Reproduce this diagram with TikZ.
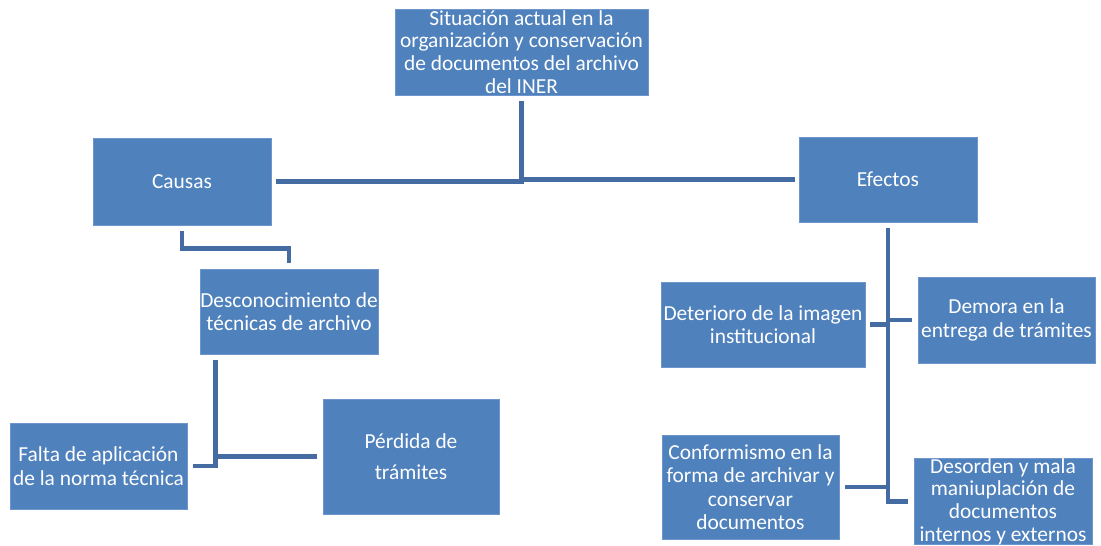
\documentclass[tikz,border=0pt]{standalone}
\usepackage{fontspec}
\setmainfont{Carlito}
\usetikzlibrary{calc}
\definecolor{boxblue}{RGB}{79,129,189}
\definecolor{boxedge}{RGB}{110,150,205}
\definecolor{linkblue}{RGB}{68,108,162}
\begin{document}
\begin{tikzpicture}[x=1pt,y=-1pt,
  box/.style={fill=boxblue, draw=boxedge, line width=0.8pt, inner sep=0pt,
    text=white, align=center, font=\fontsize{21.4}{23.5}\selectfont},
  conn/.style={draw=linkblue, line width=4.8pt}]
\useasboundingbox (0,0) rectangle (1101,546);

% boxes
\node[box, minimum width=253pt, minimum height=86pt, font=\fontsize{21.4}{22.8}\selectfont] (top) at (521.5,52)
  {Situación actual en la\\organización y conservación\\de documentos del archivo\\del INER};
\node[box, minimum width=178pt, minimum height=87pt] (causas) at (182,181.5) {Causas};
\node[box, minimum width=178pt, minimum height=85pt] (efectos) at (888,179.5) {Efectos};
\node[box, minimum width=178pt, minimum height=85pt] (desc) at (289,311.5)
  {Desconocimiento de\\técnicas de archivo};
\node[box, minimum width=177pt, minimum height=86pt] (falta) at (98.5,466)
  {Falta de aplicación\\de la norma técnica};
\node[box, minimum width=176pt, minimum height=115pt, font=\fontsize{21.4}{31}\selectfont] (perdida) at (411,456.5)
  {Pérdida de\\trámites};
\node[box, minimum width=204pt, minimum height=85pt] (deterioro) at (763,324.5)
  {Deterioro de la imagen\\institucional};
\node[box, minimum width=177pt, minimum height=86pt] (demora) at (1006.5,320)
  {Demora en la\\entrega de trámites};
\node[box, minimum width=177pt, minimum height=104pt] (conform) at (750.5,487)
  {Conformismo en la\\forma de archivar y\\conservar\\documentos};
\node[box, minimum width=178pt, minimum height=86pt, font=\fontsize{21.4}{22.8}\selectfont] (desorden) at (1003,501.5)
  {Desorden y mala\\maniuplación de\\documentos\\internos y externos};

% connectors
\draw[conn] ($(causas.east)+(5,0)$) -| ($(top.south)+(0,6)$);
\draw[conn] ($(efectos.west)+(-4,0)$) -| ($(top.south)+(0,6)$);

\draw[conn] ($(causas.south)+(0,6)$) -- ++(0,17) -| ($(desc.north)+(0,-6)$);

\draw[conn] ($(desc.south west)+(16,6)$) |- ($(falta.east)+(6,0)$);
\draw[conn] ($(perdida.west)+(-6,0)$) -- ($(desc.south west |- perdida.west)+(16,0)$);

\draw[conn] ($(efectos.south)+(0,6)$) |- ($(desorden.west)+(-6,0)$);
\draw[conn] ($(deterioro.east)+(5,0)$) -- (efectos.south |- deterioro.east);
\draw[conn] ($(demora.west)+(-6,0)$) -- (efectos.south |- demora.west);
\draw[conn] ($(conform.east)+(6,0)$) -- (efectos.south |- conform.east);
\end{tikzpicture}
\end{document}
